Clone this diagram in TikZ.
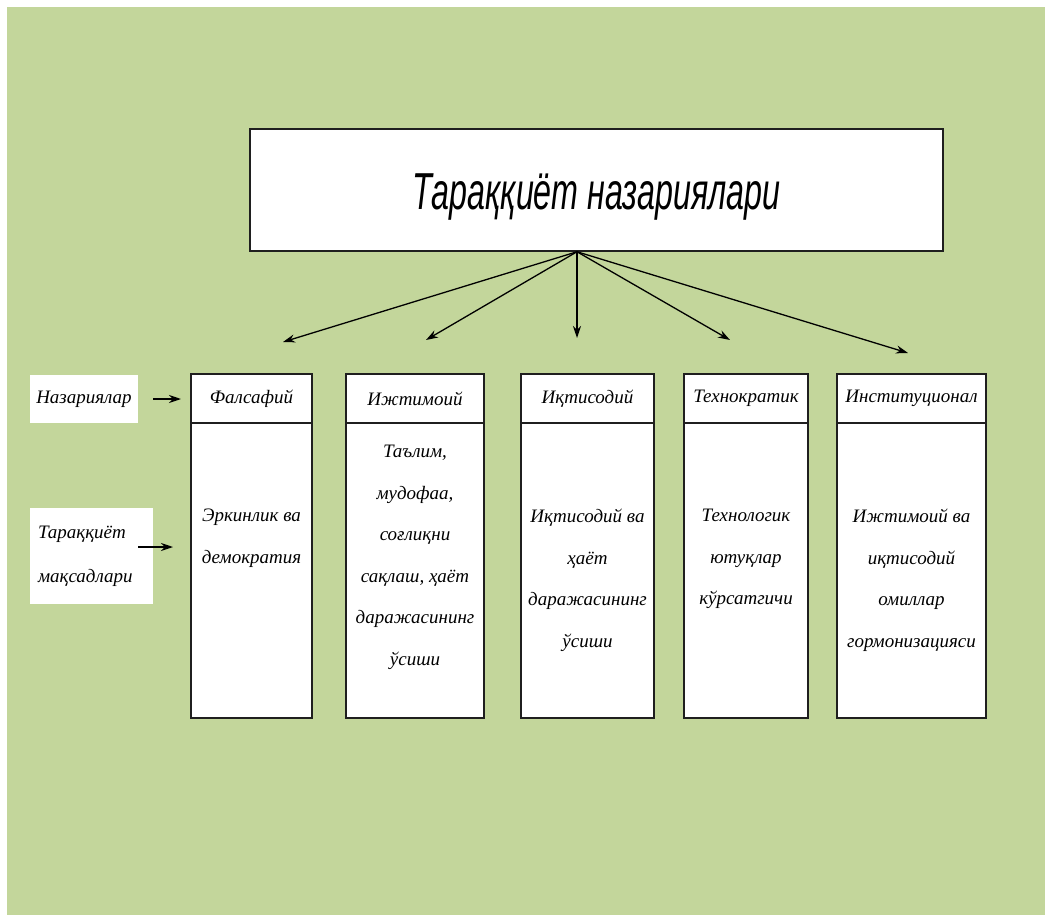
\documentclass[tikz,border=0pt]{standalone}
\usepackage{fontspec}
\setmainfont{Liberation Serif}
\newfontfamily\titlefont{Liberation Sans}
\usepackage{xcolor}
\usepackage{tikz}
\usetikzlibrary{arrows.meta}
\usetikzlibrary{calc}
\usetikzlibrary{positioning}
\definecolor{bggreen}{HTML}{C3D69B}
\definecolor{boxline}{HTML}{1F1F1F}

\begin{document}
\begin{tikzpicture}[x=1pt,y=-1pt,>={Stealth[length=12pt,width=8pt]},
                    semithick]
  \tikzstyle{head}=[draw=boxline, line width=1.3pt, fill=white, outer sep=0pt,
                    minimum height=49pt, font=\itshape\fontsize{19}{23}\selectfont]
  \tikzstyle{body}=[head, minimum height=295pt]
  \tikzstyle{bodytext}=[inner sep=0pt, align=center,
                        font=\itshape\fontsize{19}{41.5}\selectfont]
  \tikzstyle{side}=[fill=white, inner sep=0pt, minimum height=48pt,
                    font=\itshape\fontsize{19}{44}\selectfont]
  \tikzstyle{arr}=[->, line width=1.3pt]
  % page and green card
  \useasboundingbox (0,0) rectangle (1045,915);
  \fill[white] (0,0) rectangle (1045,915);
  \fill[bggreen] (7,7) rectangle (1045,915);
  % title
  \node[draw=boxline, line width=1.5pt, fill=white, minimum width=693pt,
        minimum height=122pt] (title) at (596.5,190)
        {\titlefont\itshape\fontsize{52}{60}\selectfont\raisebox{-19pt}[0pt][0pt]{\scalebox{0.62}[1]{Тараққиёт назариялари}}};
  \coordinate (hub) at ([xshift=-19.5pt]title.south);
  % headers
  \node[head, minimum width=121pt] (fal) at (251.5,398.5) {Фалсафий};
  \node[head, minimum width=138pt] (soc) [right=34pt of fal] {Ижтимоий};
  \node[head, minimum width=133pt] (eco) [right=37pt of soc] {Иқтисодий};
  \node[head, minimum width=124pt] (tech) [right=30pt of eco] {Технократик};
  \node[head, minimum width=149pt] (inst) [right=29pt of tech] {Институционал};
  % bodies
  \node[body, minimum width=121pt] (falb) [below=0pt of fal] {};
  \node[body, minimum width=138pt] (socb) [below=0pt of soc] {};
  \node[body, minimum width=133pt] (ecob) [below=0pt of eco] {};
  \node[body, minimum width=124pt] (techb) [below=0pt of tech] {};
  \node[body, minimum width=149pt] (instb) [below=0pt of inst] {};
  \node[bodytext] (falt) [below=86pt of fal] {Эркинлик ва\\демократия};
  \node[bodytext] (soct) [below=22pt of soc] {Таълим,\\мудофаа,\\соғлиқни\\сақлаш, ҳаёт\\даражасининг\\ўсиши};
  \node[bodytext] (ecot) [below=86pt of eco] {Иқтисодий ва\\ҳаёт\\даражасининг\\ўсиши};
  \node[bodytext] (techt) [below=86pt of tech] {Технологик\\ютуқлар\\кўрсатгичи};
  \node[bodytext] (instt) [below=86pt of inst] {Ижтимоий ва\\иқтисодий\\омиллар\\гормонизацияси};
  % row labels
  \node[side, minimum width=108pt] (theo) at (84,399) {Назариялар};
  \node[side, minimum width=123pt, minimum height=96pt, text width=107pt,
        align=left, inner xsep=8pt] (goal) at (91.5,556) {Тараққиёт\\мақсадлари};
  \draw[arr, shorten <=15pt, shorten >=10pt] (theo.east) -- (theo.east -| fal.west);
  \draw[arr, shorten <=-15pt, shorten >=18pt] ([yshift=9pt]goal.east) -- ([yshift=9pt]goal.east -| falb.west);
  % fan of arrows
  \coordinate (tfal) at (283,342);
  \coordinate (tsoc) at (426,340);
  \coordinate (teco) at (577,338);
  \coordinate (ttech) at (730,340);
  \coordinate (tinst) at (908,353);
  \foreach \t in {tfal,tsoc,teco,ttech,tinst}
    \draw[arr] (hub) -- (\t);
\end{tikzpicture}
\end{document}
